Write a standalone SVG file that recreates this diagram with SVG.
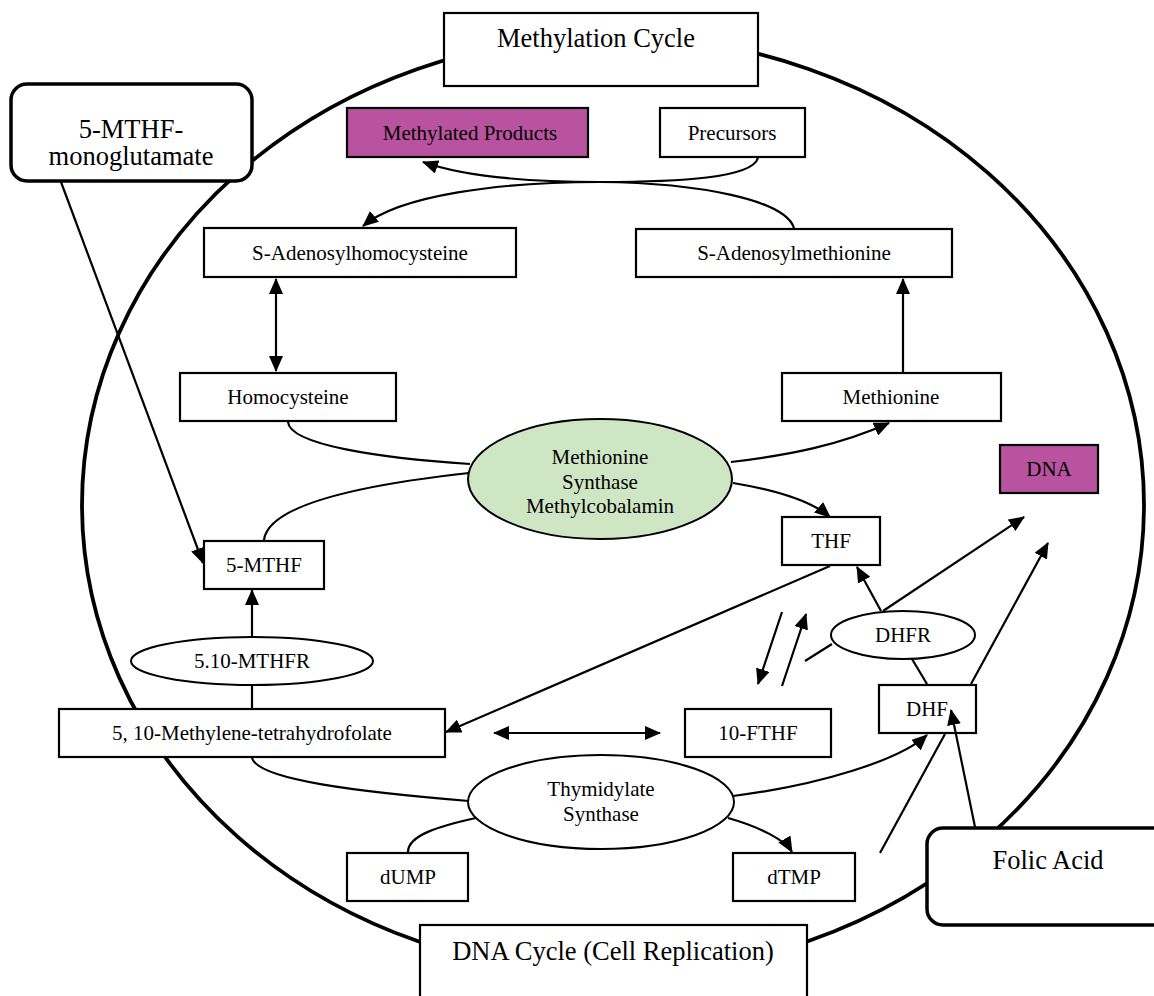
<svg xmlns="http://www.w3.org/2000/svg" width="1154" height="996" viewBox="0 0 1154 996">
<style>
.box{fill:#fff;stroke:#000;stroke-width:2.2}
.rbox{fill:#fff;stroke:#000;stroke-width:3.5}
.pur{fill:#BA539F;stroke:#000;stroke-width:2.2}
.ell{fill:#fff;stroke:#000;stroke-width:2}
.grn{fill:#CFE6C4;stroke:#000;stroke-width:2}
.big{font-family:"Liberation Serif","Times New Roman",serif;font-size:26.5px;text-anchor:middle;fill:#000}
.sm{font-family:"Liberation Serif","Times New Roman",serif;font-size:21px;text-anchor:middle;fill:#000}
.c{fill:none;stroke:#000;stroke-width:2.2}
.ca{fill:none;stroke:#000;stroke-width:2.2;marker-end:url(#ah)}
.cd{fill:none;stroke:#000;stroke-width:2.2;marker-end:url(#ah);marker-start:url(#ah)}
</style>
<defs>
<marker id="ah" markerUnits="userSpaceOnUse" markerWidth="16" markerHeight="14" viewBox="0 0 16 14" refX="15" refY="7" orient="auto-start-reverse">
<path d="M0,0 L16,7 L0,14 z" fill="#000"/>
</marker>
</defs>
<rect width="1154" height="996" fill="#fff"/>
<ellipse id="cycle" cx="613" cy="505" rx="531" ry="469" fill="none" stroke="#000" stroke-width="3.8"/>
<g id="methylation-cycle"><rect class="box" x="444" y="13" width="314" height="73"/><text class="big" x="596" y="47">Methylation Cycle</text></g>
<g id="mthf-mono"><rect class="rbox" x="11" y="84" width="241" height="97" rx="16"/><text class="big" x="131" y="138">5-MTHF-</text><text class="big" x="131" y="165">monoglutamate</text></g>
<g id="methylated-products"><rect class="pur" x="347" y="108" width="241" height="49"/><text class="sm" x="470" y="140">Methylated Products</text></g>
<g id="precursors"><rect class="box" x="660" y="108" width="145" height="49"/><text class="sm" x="732" y="140">Precursors</text></g>
<g id="sah"><rect class="box" x="204" y="228" width="312" height="49"/><text class="sm" x="360" y="260">S-Adenosylhomocysteine</text></g>
<g id="sam"><rect class="box" x="636" y="229" width="316" height="48"/><text class="sm" x="794" y="260">S-Adenosylmethionine</text></g>
<g id="homocysteine"><rect class="box" x="180" y="373" width="216" height="48"/><text class="sm" x="288" y="404">Homocysteine</text></g>
<g id="methionine"><rect class="box" x="782" y="373" width="219" height="48"/><text class="sm" x="891" y="404">Methionine</text></g>
<g id="ms"><ellipse class="grn" cx="600" cy="479" rx="132" ry="60"/><text class="sm" x="600" y="464">Methionine</text><text class="sm" x="600" y="489">Synthase</text><text class="sm" x="600" y="513">Methylcobalamin</text></g>
<g id="dna"><rect class="pur" x="1000" y="445" width="98" height="48"/><text class="sm" x="1049" y="476">DNA</text></g>
<g id="thf"><rect class="box" x="782" y="517" width="98" height="48"/><text class="sm" x="831" y="548">THF</text></g>
<g id="mthf"><rect class="box" x="204" y="541" width="120" height="48"/><text class="sm" x="264" y="572">5-MTHF</text></g>
<g id="dhfr"><ellipse class="ell" cx="903" cy="635" rx="72" ry="24"/><text class="sm" x="903" y="642">DHFR</text></g>
<g id="mthfr"><ellipse class="ell" cx="252" cy="661" rx="121" ry="24"/><text class="sm" x="252" y="668">5.10-MTHFR</text></g>
<g id="methylene-thf"><rect class="box" x="59" y="709" width="386" height="48"/><text class="sm" x="252" y="740">5, 10-Methylene-tetrahydrofolate</text></g>
<g id="fthf"><rect class="box" x="685" y="709" width="146" height="48"/><text class="sm" x="758" y="740">10-FTHF</text></g>
<g id="dhf"><rect class="box" x="879" y="685" width="97" height="48"/><text class="sm" x="927" y="716">DHF</text></g>
<g id="ts"><ellipse class="ell" cx="601" cy="802" rx="133" ry="47"/><text class="sm" x="601" y="796">Thymidylate</text><text class="sm" x="601" y="821">Synthase</text></g>
<g id="dump"><rect class="box" x="347" y="853" width="121" height="48"/><text class="sm" x="408" y="884">dUMP</text></g>
<g id="dtmp"><rect class="box" x="733" y="853" width="122" height="48"/><text class="sm" x="794" y="884">dTMP</text></g>
<g id="folic-acid"><rect class="rbox" x="927" y="828" width="245" height="97" rx="16"/><text class="big" x="1048" y="869">Folic Acid</text></g>
<g id="dna-cycle"><rect class="box" x="420" y="925" width="387" height="90"/><text class="big" x="613" y="960">DNA Cycle (Cell Replication)</text></g>
<g id="connectors">
<path class="ca" d="M758 158 C752 178 680 182 600 182 C520 182 460 175 423 162"/>
<path class="ca" d="M794 228 C785 200 700 183 600 182 C500 182 400 195 363 226"/>
<path class="cd" d="M276 279 L276 371"/>
<path class="ca" d="M903 372 L903 279"/>
<path class="c" d="M288 422 C290 445 380 458 470 464"/>
<path class="c" d="M469 473 C360 485 268 505 264 540"/>
<path class="ca" d="M61 182 L203 563"/>
<path class="ca" d="M731 462 C790 455 840 445 889 423"/>
<path class="ca" d="M733 483 C775 490 810 500 830 517"/>
<path class="ca" d="M252 636 L252 590"/>
<path class="c" d="M252 708 L252 686"/>
<path class="ca" d="M830 566 L446 732"/>
<path class="cd" d="M494 733 L660 733"/>
<path class="c" d="M252 758 C258 780 360 792 469 801"/>
<path class="c" d="M408 852 C408 835 440 826 476 818"/>
<path class="ca" d="M733 796 C820 785 900 760 927 735"/>
<path class="ca" d="M728 818 C760 827 785 840 792 852"/>
<path class="ca" d="M881 611 L857 567"/>
<path class="ca" d="M883 611 L1024 517"/>
<path class="ca" d="M782 612 L758 684"/>
<path class="ca" d="M782 686 L806 614"/>
<path class="c" d="M805 661 L832 644"/>
<path class="c" d="M912 659 L927 684"/>
<path class="ca" d="M971 684 L1048 543"/>
<path class="ca" d="M975 827 L951 710"/>
<path class="c" d="M880 853 L945 734"/>
</g>
</svg>
